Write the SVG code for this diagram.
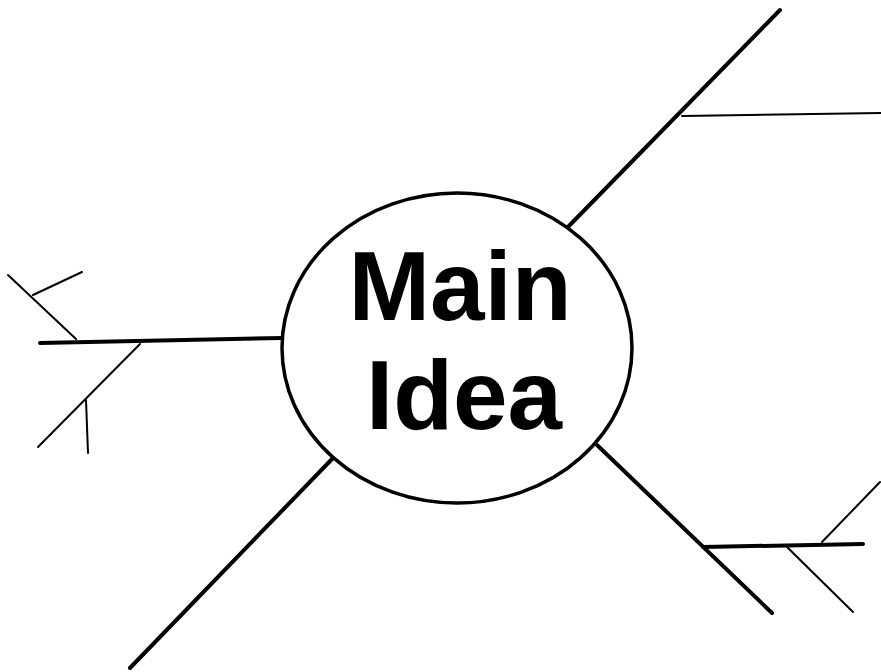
<svg xmlns="http://www.w3.org/2000/svg" width="881" height="672" viewBox="0 0 881 672">
<style>
.thick{stroke:#000;stroke-width:4;stroke-linecap:round;fill:none}
.thin{stroke:#000;stroke-width:2;stroke-linecap:round;fill:none}
.label{font-family:"Liberation Sans",Arial,sans-serif;font-weight:bold;font-size:98px;fill:#000;text-anchor:middle}
</style>
<rect width="881" height="672" fill="#fff"/>
<g id="connectors">
<line class="thick" x1="40" y1="343" x2="282" y2="338"/>
<line class="thin" x1="8" y1="275" x2="76" y2="339"/>
<line class="thin" x1="33" y1="295" x2="82" y2="272"/>
<line class="thin" x1="140" y1="344" x2="38" y2="447"/>
<line class="thin" x1="86" y1="400" x2="88" y2="453"/>
<line class="thick" x1="333" y1="458" x2="130" y2="668"/>
<line class="thick" x1="567" y1="228" x2="780" y2="10"/>
<line class="thin" x1="682" y1="116" x2="881" y2="113"/>
<line class="thick" x1="597" y1="445" x2="772" y2="613"/>
<line class="thick" x1="703" y1="547" x2="863" y2="544"/>
<line class="thin" x1="822" y1="542" x2="880" y2="482"/>
<line class="thin" x1="787" y1="547" x2="853" y2="612"/>
</g>
<g id="main-idea">
<ellipse cx="457" cy="348" rx="175" ry="155" fill="#fff" stroke="#000" stroke-width="3.5"/>
<text class="label" x="460" y="320">Main</text>
<text class="label" x="464" y="429">Idea</text>
</g>
</svg>
